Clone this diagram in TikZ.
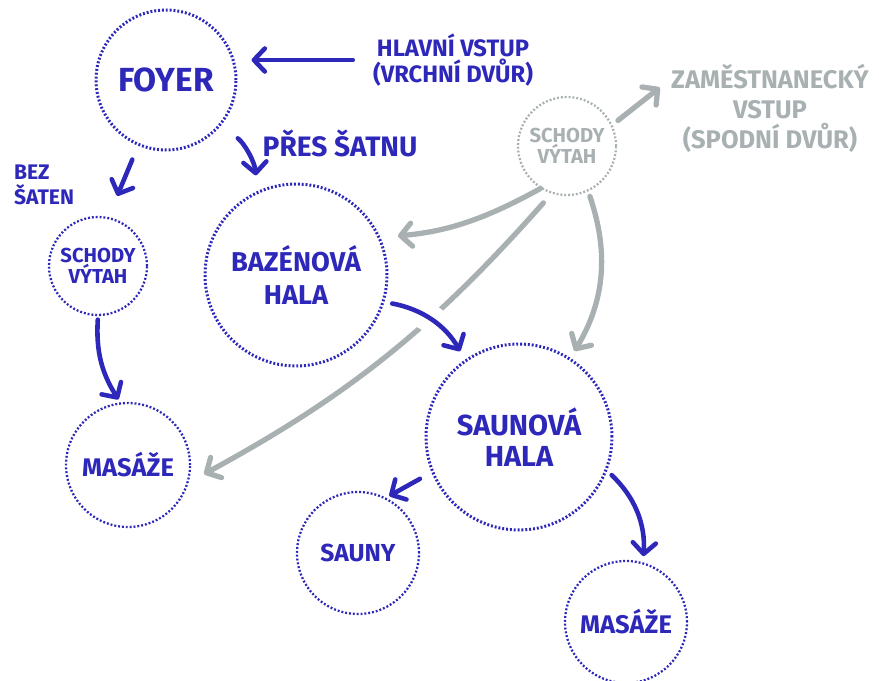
\documentclass[tikz,border=0pt]{standalone}
\usepackage{fontspec}
\setmainfont{Fira Sans}
\usetikzlibrary{arrows.meta}
\usepackage{xcolor}
\definecolor{pen}{RGB}{45,40,185}
\definecolor{pencil}{RGB}{168,176,178}

\begin{document}
\begin{tikzpicture}[x=0.02cm, y=-0.02cm,
    room/.style={circle, draw=pen, line width=1.7pt, dash pattern=on 1.1pt off 1.1pt,
      text=pen, align=center, inner sep=0pt},
    note/.style={text=pen, align=center},
    penarrow/.style={draw=pen, line width=2.6pt, line cap=round,
      -{Straight Barb[round,length=2.2mm,width=4.6mm]}},
    grayarrow/.style={draw=pencil, line width=3pt, line cap=round,
      -{Straight Barb[round,length=2.2mm,width=4.6mm]}},
    halo/.style={preaction={draw=white, line width=16pt, arrows=-, line cap=butt}}
  ]

        \useasboundingbox (0,0) rectangle (879,680);

        % Rooms
        \node[room, minimum size=2.8cm, font=\bfseries\fontsize{19}{22}\selectfont] (foyer) at (166,80) {FOYER};
        \node[room, line width=1.3pt, minimum size=1.96cm, font=\bfseries\fontsize{11.5}{12}\selectfont] (schodyL) at (98,266) {SCHODY\\VÝTAH};
        \node[room, line width=1.3pt, draw=pencil, text=pencil, minimum size=1.96cm, font=\bfseries\fontsize{11.5}{12}\selectfont] (schodyR) at (567,146) {SCHODY\\VÝTAH};
        \node[room, minimum size=3.64cm, font=\bfseries\fontsize{15.5}{19}\selectfont] (bazen) at (296,275) {BAZÉNOVÁ\\HALA};
        \node[room, minimum size=3.72cm, font=\bfseries\fontsize{16.5}{18}\selectfont] (saunaHala) at (519,437) {SAUNOVÁ\\HALA};
        \node[room, line width=1.3pt, minimum size=2.48cm, font=\bfseries\fontsize{14.5}{15}\selectfont] (masazeL) at (128,465) {MASÁŽE};
        \node[room, line width=1.3pt, minimum size=2.44cm, font=\bfseries\fontsize{14}{15}\selectfont] (sauny) at (358,553) {SAUNY};
        \node[room, line width=1.3pt, minimum size=2.44cm, font=\bfseries\fontsize{14.5}{15}\selectfont] (masazeR) at (626,622) {MASÁŽE};

        % Labels
        \node[note, font=\bfseries\fontsize{13.5}{14.5}\selectfont] (hlavni) at (453,60) {HLAVNÍ VSTUP\\(VRCHNÍ DVŮR)};
        \node[note, font=\bfseries\fontsize{16}{18}\selectfont] (presSatnu) at (340,143) {PŘES ŠATNU};
        \node[note, align=left, anchor=west, font=\bfseries\fontsize{12}{14.5}\selectfont] (bezSaten) at (8,185) {BEZ\\ŠATEN};
        \node[note, text=pencil, font=\bfseries\fontsize{14.5}{17}\selectfont] (zamVstup) at (770,108) {ZAMĚSTNANECKÝ\\VSTUP\\(SPODNÍ DVŮR)};

        % Staff entrance (pencil)
        \draw[grayarrow, shorten <=4pt] (schodyR.25) -- ([xshift=-3pt,yshift=-17pt]zamVstup.north west);
        \draw[grayarrow, shorten >=10pt] (schodyR.238) to[bend left=12] (bazen.24);
        \draw[grayarrow, shorten <=3pt, shorten >=4.5pt] (schodyR.-65) to[bend left=25] (saunaHala.57);
        \draw[grayarrow, shorten <=7pt, shorten >=10pt] (schodyR.252) to[bend left=10] (masazeL.-16);

        % Guests (pen)
        \draw[penarrow, shorten <=8pt, shorten >=8pt] (hlavni.west) -- (hlavni.west -| foyer.east);
        \draw[penarrow, shorten <=8.5pt, shorten >=13pt] (foyer.247) -- (schodyL.78);
        \draw[penarrow, shorten <=12pt, shorten >=9pt] (foyer.-40) to[bend left=25] (bazen.115);
        \draw[penarrow, shorten <=2pt, shorten >=2pt] (schodyL.270) to[bend right=18] (masazeL.97);
        \draw[penarrow, halo, shorten <=4.5pt, shorten >=5.5pt] (bazen.-17) to[bend left=25] (saunaHala.125);
        \draw[penarrow, shorten <=7.5pt, shorten >=2pt] (saunaHala.202) -- (sauny.63);
        \draw[penarrow, shorten <=3.5pt, shorten >=3.5pt] (saunaHala.-21) to[bend left=25] (masazeR.74);
    \end{tikzpicture}
\end{document}
